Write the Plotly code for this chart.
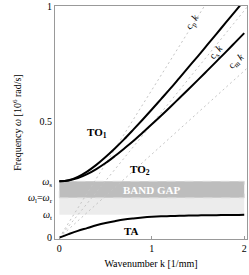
import plotly.graph_objects as go

# wavenumber samples [1/mm]
k = [0, 0.1, 0.2, 0.3, 0.4, 0.5, 0.6, 0.7, 0.8, 0.9, 1.0, 1.1, 1.2, 1.3, 1.4, 1.5,
     1.6, 1.7, 1.8, 1.9, 2.0]
# branches [10^6 rad/s]
TO1 = [0.243, 0.248, 0.262, 0.285, 0.314, 0.348, 0.385, 0.424, 0.466, 0.509, 0.553,
       0.598, 0.643, 0.690, 0.737, 0.784, 0.832, 0.880, 0.928, 0.976, 1.024]
TO2 = [0.243, 0.247, 0.257, 0.274, 0.296, 0.322, 0.352, 0.384, 0.417, 0.453, 0.489,
       0.526, 0.564, 0.603, 0.642, 0.681, 0.721, 0.761, 0.801, 0.842, 0.883]
TA = [0.0, 0.015, 0.029, 0.041, 0.053, 0.063, 0.071, 0.078, 0.083, 0.087, 0.090,
      0.092, 0.093, 0.094, 0.095, 0.096, 0.097, 0.097, 0.098, 0.098, 0.099]

# asymptote slopes
c_p, c_s, c_m = 0.637, 0.49, 0.36
k_line = [0, 2.03]

# characteristic frequencies
w_t, w_l, w_s = 0.099, 0.172, 0.243

x_range = [-0.047, 2.03]
y_range = [-0.006, 1.0]

FONT = "Liberation Serif, Times New Roman, serif"

fig = go.Figure()

# dotted asymptotes
for c in (c_p, c_s, c_m):
    fig.add_trace(go.Scatter(x=k_line, y=[c * kk for kk in k_line], mode="lines",
                             line=dict(color="#c4c4c4", width=1, dash="2px,3px"),
                             hoverinfo="skip", showlegend=False))

for ys in (TO1, TO2, TA):
    fig.add_trace(go.Scatter(x=k, y=ys, mode="lines", line=dict(color="black", width=2, shape="spline"),
                             showlegend=False))

# band gap shapes
fig.add_shape(type="rect", xref="x", yref="y", x0=k[0], x1=k[-1], y0=w_t, y1=w_l,
              fillcolor="#ececec", line=dict(width=0), layer="below")
fig.add_shape(type="rect", xref="x", yref="y", x0=k[0], x1=k[-1], y0=w_l, y1=w_s,
              fillcolor="#bdbdbd", line=dict(width=1, color="#d8d8d8", dash="dash"), layer="below")

ann = [
    dict(x=1.0, y=(w_l + w_s) / 2, text="<b>BAND GAP</b>", font=dict(color="white", size=11)),
    dict(x=0.41, y=0.453, text="<b>TO<sub>1</sub></b>", font=dict(size=11)),
    dict(x=0.874, y=0.293, text="<b>TO<sub>2</sub></b>", font=dict(size=11)),
    dict(x=0.78, y=0.027, text="<b>TA</b>", font=dict(size=11)),
    dict(x=1.44, y=0.93, text="c<sub>p</sub> <i>k</i>", textangle=-58, font=dict(size=10)),
    dict(x=1.70, y=0.80, text="c<sub>s</sub> <i>k</i>", textangle=-51, font=dict(size=10)),
    dict(x=1.92, y=0.76, text="c<sub>m</sub> <i>k</i>", textangle=-42, font=dict(size=10)),
]
for a in ann:
    a.setdefault("font", {})
    a["font"].setdefault("family", FONT)
    a["font"].setdefault("color", "black")
    fig.add_annotation(showarrow=False, xref="x", yref="y", **a)

fig.update_layout(
    width=249, height=275,
    margin=dict(l=55, r=2, t=6, b=36),
    paper_bgcolor="white", plot_bgcolor="white",
    font=dict(family=FONT, size=10, color="black"),
    showlegend=False,
)
fig.update_xaxes(range=x_range, tickvals=[0, 1, 2], ticktext=["0", "1", "2"],
                 automargin=False, tickfont=dict(size=10),
                 showgrid=False, zeroline=False, showline=True, mirror=True,
                 linecolor="#999999", linewidth=1, ticks="inside", ticklen=3,
                 tickcolor="#999999",
                 title=dict(text="Wavenumber k [1/mm]", standoff=6, font=dict(size=10)))
fig.update_yaxes(range=y_range, automargin=False, tickfont=dict(size=10),
                 tickvals=[0, w_t, w_l, w_s, 0.5, 1],
                 ticktext=["0", "<i>ω</i><sub>t</sub>", "<i>ω</i><sub>l</sub>=<i>ω</i><sub>r</sub>",
                           "<i>ω</i><sub>s</sub>", "0.5", "1"],
                 showgrid=False, zeroline=False, showline=True, mirror=True,
                 linecolor="#999999", linewidth=1, ticks="", ticklen=0,
                 title=dict(text="Frequency <i>ω</i> [10<sup>6</sup> rad/s]", standoff=4, font=dict(size=10)))

fig.write_html("out.html", config={"displayModeBar": False},
               post_script="document.body.style.margin='0';document.body.style.overflow='hidden';")
